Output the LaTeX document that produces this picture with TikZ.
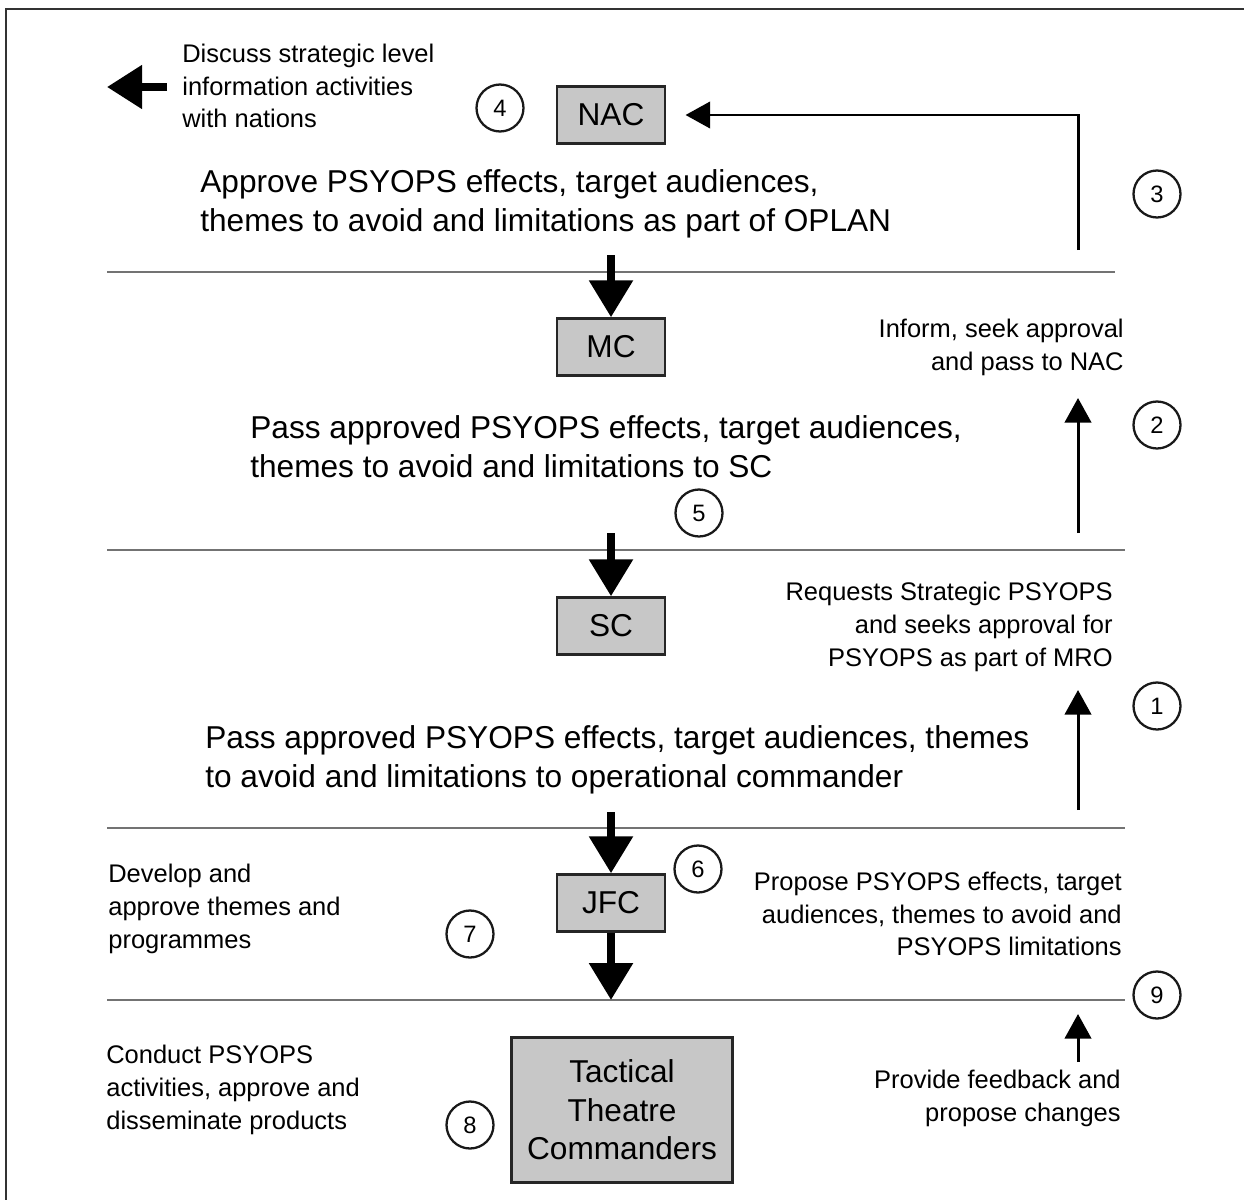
\documentclass[tikz,border=0pt]{standalone}
\usepackage{fontspec}
\setmainfont{Liberation Sans}
\usetikzlibrary{arrows.meta}

\begin{document}
\begin{tikzpicture}[x=0.02cm,y=-0.02cm,
    boxnode/.style={draw=black!85,line width=1.4pt,fill=black!22,minimum width=2.16cm,minimum height=1.14cm,font=\fontsize{18}{22}\selectfont},
    numcirc/.style={circle,draw=black!90,line width=1.3pt,minimum size=0.94cm,inner sep=0pt,font=\fontsize{13.5}{15}\selectfont},
    bigtext/.style={inner sep=0pt,align=left,anchor=west,font=\fontsize{18}{22}\selectfont},
    smalltext/.style={inner sep=0pt,font=\fontsize{14.5}{18.7}\selectfont},
    divider/.style={black!55,line width=1.5pt},
    downarr/.style={line width=4.6pt,-{Triangle[width=24pt,length=21pt]}},
    uparr/.style={line width=1.7pt,-{Triangle[width=15pt,length=14pt]}}]
  \useasboundingbox (0,0) rectangle (1244,1200);
  % frame and level lines
  \draw[black!80,line width=1.1pt] (1244,9) -- (6,9) -- (6,1200);
  \draw[divider] (107,272) -- (1115,272);
  \draw[divider] (107,550) -- (1125,550);
  \draw[divider] (107,828) -- (1125,828);
  \draw[divider] (107,1000) -- (1125,1000);
  % levels
  \node[boxnode] (nac) at (611,115) {NAC};
  \node[boxnode] (mc) at (611,347) {MC};
  \node[boxnode] (sc) at (611,626) {SC};
  \node[boxnode] (jfc) at (611,903) {JFC};
  \node[boxnode,minimum width=4.42cm,minimum height=2.9cm,align=center] (ttc) at (622,1110)
    {Tactical\\Theatre\\Commanders};
  % step numbers
  \node[numcirc] (n1) at (1157,706) {1};
  \node[numcirc] (n2) at (1157,425) {2};
  \node[numcirc] (n3) at (1157,194) {3};
  \node[numcirc] (n4) at (500,108) {4};
  \node[numcirc] (n5) at (699,513) {5};
  \node[numcirc] (n6) at (698,869) {6};
  \node[numcirc] (n7) at (470,934) {7};
  \node[numcirc] (n8) at (470,1125) {8};
  \node[numcirc] (n9) at (1157,995) {9};
  % texts
  \node[smalltext,align=left,anchor=west] (discuss) at (182,86)
    {Discuss strategic level\\information activities\\with nations};
  \node[bigtext] (approve) at (200,204)
    {Approve PSYOPS effects, target audiences,\\themes to avoid and limitations as part of OPLAN};
  \node[smalltext,align=right,anchor=east] (inform) at (1124,347)
    {Inform, seek approval\\and pass to NAC};
  \node[bigtext] (passsc) at (250,447)
    {Pass approved PSYOPS effects, target audiences,\\themes to avoid and limitations to SC};
  \node[smalltext,align=right,anchor=east] (request) at (1113,627)
    {Requests Strategic PSYOPS\\and seeks approval for\\PSYOPS as part of MRO};
  \node[bigtext] (passjfc) at (205,760)
    {Pass approved PSYOPS effects, target audiences, themes\\to avoid and limitations to operational commander};
  \node[smalltext,align=left,anchor=west] (develop) at (108,909)
    {Develop and\\approve themes and\\programmes};
  \node[smalltext,align=right,anchor=east] (propose) at (1122,914)
    {Propose PSYOPS effects, target\\audiences, themes to avoid and\\PSYOPS limitations};
  \node[smalltext,align=left,anchor=west] (conduct) at (106,1090)
    {Conduct PSYOPS\\activities, approve and\\disseminate products};
  \node[smalltext,align=right,anchor=east] (provide) at (1121,1098)
    {Provide feedback and\\propose changes};
  % free ends
  \coordinate (nations) at (107,87);
  \coordinate (nacout) at (167,87);
  \coordinate (mcin) at (611,255);
  \coordinate (scin) at (611,533);
  \coordinate (jfcin) at (611,812);
  \coordinate (jfcout) at (611,1000);
  \coordinate (up3) at (1078,250);
  \coordinate (up2a) at (1078,533);
  \coordinate (up2b) at (1078,398);
  \coordinate (up1a) at (1078,810);
  \coordinate (up1b) at (1078,690);
  \coordinate (up9a) at (1078,1062);
  \coordinate (up9b) at (1078,1014);
  \begin{scope}
    \draw[line width=4.5pt,-{Triangle[width=24pt,length=20pt]}] (nacout) to (nations);
    \draw[downarr] (mcin) to (mc.north);
    \draw[downarr] (scin) to (sc.north);
    \draw[downarr] (jfcin) to (jfc.north);
    \draw[downarr] (jfc.south) to (jfcout);
    \draw[uparr,shorten >=11pt] (up3) |- (nac.east);
    \draw[uparr] (up2a) to (up2b);
    \draw[uparr] (up1a) to (up1b);
    \draw[uparr] (up9a) to (up9b);
  \end{scope}
\end{tikzpicture}
\end{document}
